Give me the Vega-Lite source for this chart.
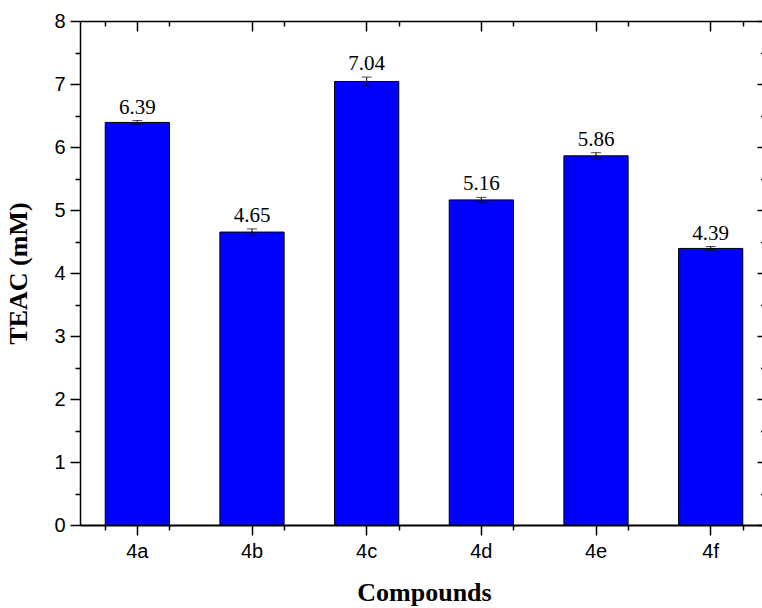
{
  "$schema": "https://vega.github.io/schema/vega-lite/v6.json",
  "autosize": "none",
  "width": 682,
  "height": 504,
  "padding": {"left": 80, "top": 21, "right": 0, "bottom": 83},
  "background": "white",
  "config": {"view": {"stroke": null}},
  "data": {"values": [
    {"compound": "4a", "teac": 6.39, "lo": 6.36, "hi": 6.42},
    {"compound": "4b", "teac": 4.65, "lo": 4.60, "hi": 4.70},
    {"compound": "4c", "teac": 7.04, "lo": 6.97, "hi": 7.11},
    {"compound": "4d", "teac": 5.16, "lo": 5.12, "hi": 5.20},
    {"compound": "4e", "teac": 5.86, "lo": 5.81, "hi": 5.91},
    {"compound": "4f", "teac": 4.39, "lo": 4.36, "hi": 4.42}
  ]},
  "resolve": {"axis": {"x": "independent", "y": "independent"}},
  "layer": [
    {
      "mark": {"type": "bar", "color": "#0000FF", "stroke": "black", "strokeWidth": 1},
      "encoding": {
        "x": {"field": "compound", "type": "nominal",
          "scale": {"range": [0, 688], "paddingInner": 0.44, "paddingOuter": 0.22},
          "axis": {"orient": "bottom", "title": "Compounds", "labelAngle": 0,
            "labelFont": "Liberation Sans", "labelFontSize": 20, "labelColor": "black", "labelPadding": 6,
            "titleFont": "Liberation Serif", "titleFontSize": 26, "titleFontWeight": "bold", "titleColor": "black", "titlePadding": 18,
            "domainColor": "black", "domainWidth": 2, "tickColor": "black", "tickWidth": 1.5, "tickSize": 10}},
        "y": {"field": "teac", "type": "quantitative",
          "scale": {"domain": [0, 8], "nice": false, "zero": true},
          "axis": {"orient": "left", "title": "TEAC (mM)", "values": [0,0.5,1,1.5,2,2.5,3,3.5,4,4.5,5,5.5,6,6.5,7,7.5,8],
            "labelExpr": "datum.value % 1 === 0 ? format(datum.value, 'd') : ''",
            "labelFont": "Liberation Sans", "labelFontSize": 20, "labelColor": "black", "labelPadding": 5,
            "titleFont": "Liberation Serif", "titleFontSize": 26, "titleFontWeight": "bold", "titleColor": "black", "titlePadding": 22,
            "domainColor": "black", "domainWidth": 1.5, "tickColor": "black", "tickWidth": 1.5,
            "tickSize": {"condition": {"test": "datum.value % 1 === 0", "value": 10}, "value": 5},
            "grid": false}}
      }
    },
    {
      "mark": {"type": "rule", "color": "black", "strokeWidth": 1},
      "encoding": {
        "x": {"field": "compound", "type": "nominal", "axis": null},
        "y": {"field": "lo", "type": "quantitative", "axis": null},
        "y2": {"field": "hi"}
      }
    },
    {
      "mark": {"type": "tick", "color": "black", "size": 10, "thickness": 1},
      "encoding": {
        "x": {"field": "compound", "type": "nominal", "axis": null},
        "y": {"field": "lo", "type": "quantitative", "axis": null}
      }
    },
    {
      "mark": {"type": "tick", "color": "black", "size": 10, "thickness": 1},
      "encoding": {
        "x": {"field": "compound", "type": "nominal", "axis": null},
        "y": {"field": "hi", "type": "quantitative", "axis": null}
      }
    },
    {
      "mark": {"type": "text", "font": "Liberation Serif", "fontSize": 21, "color": "black", "baseline": "alphabetic", "dy": -7},
      "encoding": {
        "x": {"field": "compound", "type": "nominal", "axis": null},
        "y": {"field": "hi", "type": "quantitative", "axis": null},
        "text": {"field": "teac", "type": "quantitative", "format": ".2f"}
      }
    },
    {
      "mark": {"type": "bar", "opacity": 0},
      "encoding": {
        "x": {"field": "compound", "type": "nominal",
          "axis": {"orient": "bottom", "tickBand": "extent", "labels": false, "domain": false, "title": null,
            "tickColor": "black", "tickWidth": 1.5, "tickSize": 5}},
        "y": {"field": "teac", "type": "quantitative",
          "axis": {"orient": "right", "title": null, "labels": false, "domain": false,
            "values": [0,0.5,1,1.5,2,2.5,3,3.5,4,4.5,5,5.5,6,6.5,7,7.5,8],
            "tickColor": "black", "tickWidth": 1.5,
            "tickSize": {"condition": {"test": "datum.value % 1 === 0", "value": -5}, "value": -1.5},
            "grid": false}}
      }
    },
    {
      "mark": {"type": "bar", "opacity": 0},
      "encoding": {
        "x": {"field": "compound", "type": "nominal",
          "axis": {"orient": "top", "labels": false, "domain": true, "title": null,
            "domainColor": "black", "domainWidth": 1.5,
            "tickColor": "black", "tickWidth": 1.5, "tickSize": -10}},
        "y": {"field": "teac", "type": "quantitative", "axis": null}
      }
    },
    {
      "mark": {"type": "bar", "opacity": 0},
      "encoding": {
        "x": {"field": "compound", "type": "nominal",
          "axis": {"orient": "top", "tickBand": "extent", "labels": false, "domain": false, "title": null,
            "tickColor": "black", "tickWidth": 1.5, "tickSize": -5}},
        "y": {"field": "teac", "type": "quantitative", "axis": null}
      }
    }
  ]
}
